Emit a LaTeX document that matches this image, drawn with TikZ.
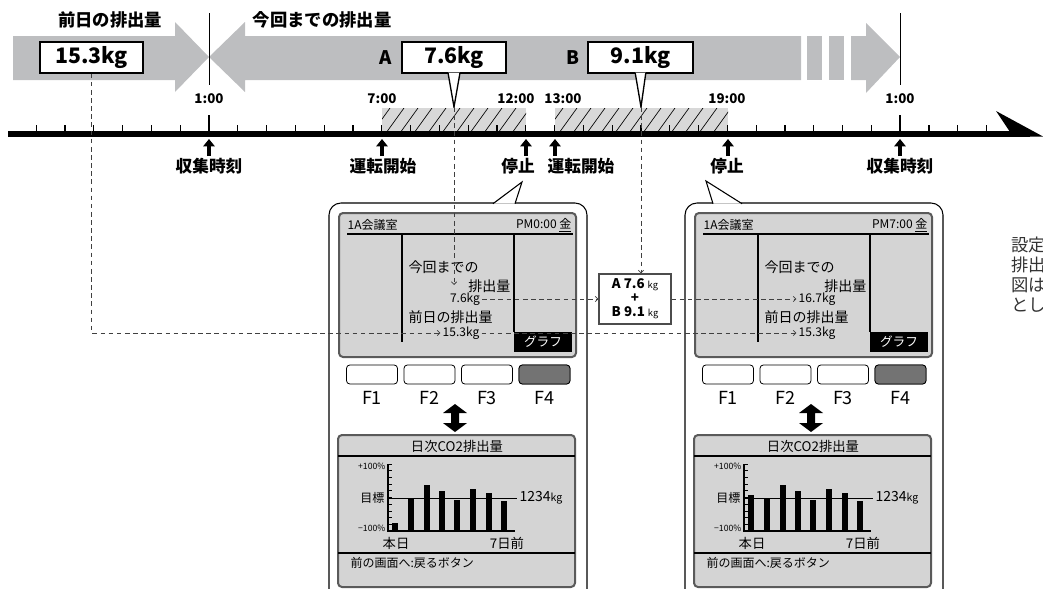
\documentclass[tikz,border=0pt]{standalone}
\usepackage{fontspec}
\setmainfont{Noto Sans CJK JP}
\usetikzlibrary{arrows.meta}
\definecolor{pfeilgrau}{HTML}{BDBEC0}
\definecolor{schirm}{HTML}{D4D4D4}
\definecolor{rand}{HTML}{5A5A5A}
\definecolor{schraffur}{HTML}{D8D8D8}
\tikzset{
  titel/.style={font=\fontsize{13}{15}\selectfont\bfseries},
  kgbox/.style={draw, line width=1.2pt, fill=white, minimum height=23pt, inner sep=2pt, font=\fontsize{16}{18}\selectfont\bfseries},
  zeit/.style={font=\fontsize{10}{12}\selectfont\bfseries},
  ereignis/.style={font=\fontsize{12.5}{14}\selectfont\bfseries},
  hochpfeil/.style={line width=3pt, -{Triangle[length=5.5pt,width=8.5pt]}},
  strich/.style={black!75, line width=0.6pt, dash pattern=on 3.5pt off 2.6pt, -{Straight Barb[length=2pt,width=4pt]}},
  schirmrand/.style={draw=rand, fill=schirm, line width=1.5pt, rounded corners=3pt},
  schirmtext/.style={font=\fontsize{10.5}{12}\selectfont, inner sep=1pt},
  kopf/.style={font=\fontsize{9}{10}\selectfont, inner sep=1pt},
  klein/.style={font=\fontsize{9}{10}\selectfont, inner sep=1.5pt},
  winzig/.style={font=\fontsize{6.5}{7}\selectfont, inner sep=1pt},
  taste/.style={font=\fontsize{13.5}{15}\selectfont},
  notiz/.style={font=\fontsize{13}{15}\selectfont, text=black!80, anchor=west, inner sep=0pt}
}

\begin{document}
\begin{tikzpicture}[x=0.75pt,y=-0.75pt]
  \useasboundingbox (0,0) rectangle (1043,589);

  % graue Pfeile oben
  \fill[pfeilgrau] (13,36) -- (175,36) -- (175,22) -- (209,57) -- (175,92) -- (175,80) -- (13,80) -- cycle;
  \fill[pfeilgrau] (209,57) -- (245,22) -- (245,36) -- (801,36) -- (801,80) -- (245,80) -- (245,92) -- cycle;
  \fill[pfeilgrau] (807,36) rectangle (822,80);
  \fill[pfeilgrau] (829,36) rectangle (844,80);
  \fill[pfeilgrau] (851,36) -- (866,36) -- (866,23) -- (900,57) -- (866,93) -- (866,80) -- (851,80) -- cycle;
  \draw[line width=0.6pt] (209,13) -- (209,85);
  \draw[line width=0.6pt] (900,13) -- (900,85);

  \node[titel] (lblPrev) at (110,20) {前日の排出量};
  \node[titel, anchor=west] (lblCur) at (248,20) {今回までの排出量};

  % Mengen in Kästen
  \node[kgbox, minimum width=77pt] (prevBox) at (91.5,57.5) {15.3kg};
  \node[kgbox, minimum width=78pt] (boxA) at (454,57.5) {7.6kg};
  \node[kgbox, minimum width=79pt] (boxB) at (640.5,57.5) {9.1kg};
  \node[font=\fontsize{14}{16}\selectfont\bfseries] (nameA) at (386,58) {A};
  \node[font=\fontsize{14}{16}\selectfont\bfseries] (nameB) at (573,58) {B};
  \coordinate (tipA) at (454,107);
  \coordinate (tipB) at (641,107);
  \filldraw[fill=white, line width=1pt] ([xshift=-4.5pt,yshift=0.7pt]boxA.south) -- (tipA) -- ([xshift=4.5pt,yshift=0.7pt]boxA.south);
  \filldraw[fill=white, line width=1pt] ([xshift=-4pt,yshift=0.7pt]boxB.south) -- (tipB) -- ([xshift=4pt,yshift=0.7pt]boxB.south);

  % Betriebszeiten schraffiert
  \begin{scope}
    \clip (382,108) rectangle (526,133);
    \fill[schraffur] (382,108) rectangle (526,133);
    \foreach \x in {372,386,...,540} \draw[line width=0.5pt] (\x,133) -- ({\x+18},108);
  \end{scope}
  \begin{scope}
    \clip (555,108) rectangle (728,133);
    \fill[schraffur] (555,108) rectangle (728,133);
    \foreach \x in {545,559,...,740} \draw[line width=0.5pt] (\x,133) -- ({\x+18},108);
  \end{scope}

  % Zeitachse
  \foreach \k in {-6,...,27} \draw[line width=0.8pt] ({209+28.8*\k},125) -- ({209+28.8*\k},133);
  \draw[line width=1.2pt] (209,115) -- (209,133);
  \draw[line width=1.2pt] (900,115) -- (900,133);
  \draw[line width=4.5pt] (8,133.5) -- (1030,133.5);
  \fill (996,111) -- (1043,136.5) -- (1013,136.5) -- cycle;

  \foreach \x/\t/\n in {209/1:00/a, 382/7:00/b, 516/12:00/c, 563/13:00/d, 727/19:00/e, 900/1:00/f}
    \node[zeit] (zeit\n) at (\x,99) {\t};
  \foreach \x in {209,382,526,555,728,900}
    \draw[hochpfeil] (\x,156) -- (\x,139);
  \node[ereignis] (sammelL) at (209,166) {収集時刻};
  \node[ereignis] (startA) at (383,166) {運転開始};
  \node[ereignis] (stopA) at (518,166) {停止};
  \node[ereignis] (startB) at (581,166) {運転開始};
  \node[ereignis] (stopB) at (727,166) {停止};
  \node[ereignis] (sammelR) at (900,166) {収集時刻};

  % Fernbedienungen
  \draw[fill=white, line width=0.8pt, rounded corners=9pt] (329,203) rectangle (587,620);
  \filldraw[fill=white, line width=0.8pt] (493,203.7) -- (522,182) -- (515,203.7);
  \draw[fill=white, line width=0.8pt, rounded corners=9pt] (685,203) rectangle (943,620);
  \filldraw[fill=white, line width=0.8pt] (713,203.7) -- (706,181) -- (742,203.7);

  \foreach \dx/\seite/\uhrzeit/\hoehe in {0/L/PM0:00/523, 356/R/PM7:00/495} {
    \begin{scope}[shift={(\dx,0)}]
      % oberer Bildschirm
      \draw[schirmrand] (339,213) rectangle (576,357);
      \node[kopf, anchor=west] (raum\seite) at (346,225) {1A会議室};
      \node[kopf, anchor=east] (uhr\seite) at (573,225) {\uhrzeit\ \underline{金}};
      \draw[line width=1.2pt] (347,234) -- (573,234);
      \draw[line width=0.8pt] (402,234) -- (402,342);
      \draw[line width=0.8pt] (514,234) -- (514,332);
      \node[fill=black, text=white, minimum width=43.5pt, minimum height=15pt, inner sep=0pt,
        font=\fontsize{9.5}{10}\selectfont] (graf\seite) at (543,342) {グラフ};
      \node[schirmtext, anchor=west] (heute\seite) at (407,267) {今回までの};
      \node[schirmtext, anchor=east] (menge\seite) at (512,286) {排出量};
      \node[schirmtext, anchor=west] (gestern\seite) at (407,317) {前日の排出量};
      \node[klein] (prev\seite) at (461,333) {15.3kg};
      % Tasten
      \foreach \i in {1,...,4} {
        \draw[rounded corners=2.5pt, line width=0.6pt, fill=white] ({289+57.5*\i},365) rectangle ({340+57.5*\i},384);
        \node[taste] (f\i\seite) at ({314.5+57.5*\i},398) {F\i};
      }
      \draw[rounded corners=2.5pt, line width=0.6pt, fill=black!55] (519,365) rectangle (570,384);
      \fill (455,404) -- (467,413) -- (459,413) -- (459,423) -- (467,423) -- (455,432)
        -- (443,423) -- (451,423) -- (451,413) -- (443,413) -- cycle;
      % unterer Bildschirm
      \draw[schirmrand] (338,435) rectangle (575,587);
      \node[font=\fontsize{10}{11}\selectfont, inner sep=1pt] (titel\seite) at (457,446) {日次CO2排出量};
      \draw[line width=1pt] (338,456) -- (575,456);
      \draw[line width=0.6pt] (388,498) -- (517,498);
      \node[anchor=west, font=\fontsize{10.5}{12}\selectfont, inner sep=1pt] (ziel\seite) at (518,498) {1234{\fontsize{8}{9}\selectfont kg}};
      \foreach \xb/\yb in {395/\hoehe, 411/498, 427/485, 442/491, 457/500, 473/489, 489/493, 504/501}
        \fill ({\xb-3},\yb) rectangle ({\xb+3},531);
      \foreach \yt in {464,470.7,...,531} \draw[line width=0.5pt] (388,\yt) -- (391.5,\yt);
      \draw[line width=1pt] (388,464) -- (388,531) -- (515,531);
      \node[winzig, anchor=east] (plus\seite) at (387,466) {+100\%};
      \node[kopf, anchor=east] (soll\seite) at (386,498) {目標};
      \node[winzig, anchor=east] (minus\seite) at (387,528) {−100\%};
      \node[font=\fontsize{10}{11}\selectfont, inner sep=1pt] (tag\seite) at (396,543) {本日};
      \node[font=\fontsize{10}{11}\selectfont, inner sep=1pt] (woche\seite) at (507,543) {7日前};
      \draw[line width=0.8pt] (338,553) -- (575,553);
      \node[kopf, anchor=west] (zurueck\seite) at (349,563) {前の画面へ:戻るボタン};
    \end{scope}
  }

  % Summe
  \node[draw=black!70, line width=0.8pt, fill=white, minimum width=54pt, minimum height=37.5pt, align=center,
    inner sep=1pt, font=\fontsize{10}{10.5}\selectfont] (sumBox) at (635,299)
    {\textbf{A 7.6} {\scriptsize kg}\\\textbf{+}\\\textbf{B 9.1} {\scriptsize kg}};
  \node[klein] (curL) at (465,299) {7.6kg};
  \node[klein] (curR) at (817,299) {16.7kg};
  \coordinate (endA) at (454,285);

  % gestrichelte Verbindungen
  \draw[strich] (prevBox.south) |- (prevL.west);
  \draw[strich] (prevL.east) -- (prevR.west);
  \draw[strich] (tipA) -- (endA);
  \draw[strich] (curL.east) -- (sumBox.west);
  \draw[strich] (sumBox.east) -- (curR.west);
  \draw[strich] (tipB) -- (tipB |- sumBox.north);

  % Text rechts (abgeschnitten)
  \node[notiz] (notiz1) at (1011,245) {設定};
  \node[notiz] (notiz2) at (1011,265) {排出};
  \node[notiz] (notiz3) at (1011,285) {図は};
  \node[notiz] (notiz4) at (1011,305) {とし};
\end{tikzpicture}
\end{document}
